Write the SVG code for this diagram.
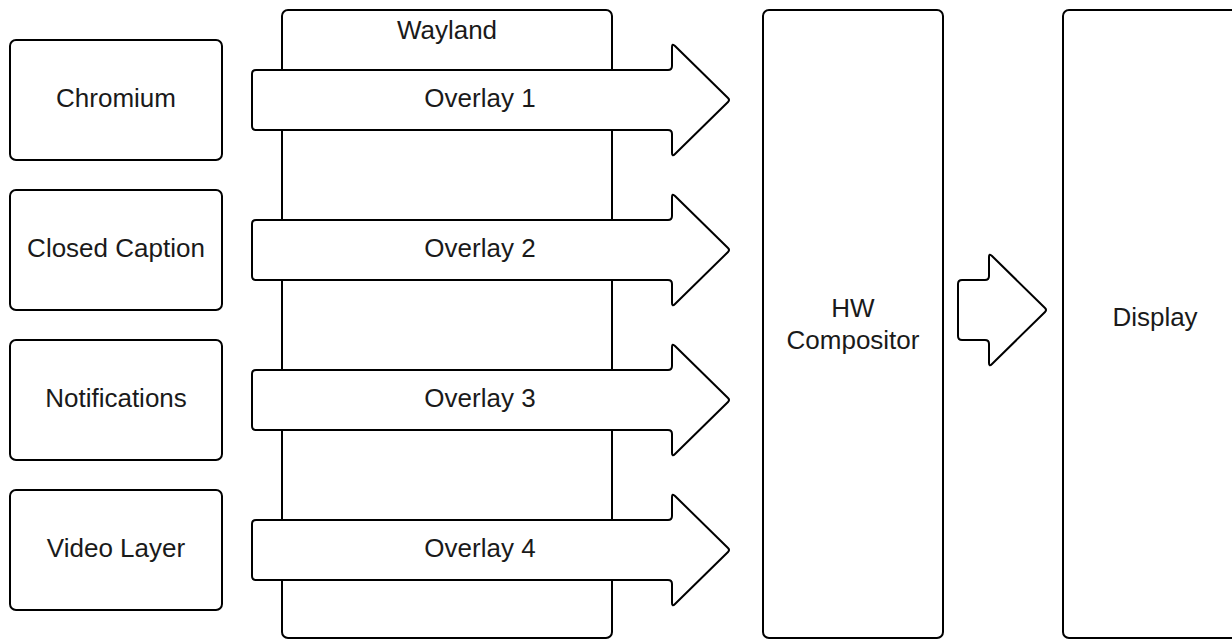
<svg xmlns="http://www.w3.org/2000/svg" xmlns:xlink="http://www.w3.org/1999/xlink" width="1232" height="639" viewBox="0 0 1232 639">
<style>
.box{fill:#fff;stroke:#000;stroke-width:2}
.arr{fill:#fff;stroke:#000;stroke-width:2;stroke-linejoin:round}
text{font-family:"Liberation Sans",Arial,sans-serif;font-size:26px;fill:#1a1a1a;text-anchor:middle}
</style>
<defs>
<path id="head" d="M 668,-30 Q 672,-30 672,-34 L 672,-53 Q 672,-57 675,-54 L 728,-2 Q 730,0 728,2 L 675,54 Q 672,57 672,53 L 672,34 Q 672,30 668,30"/>
</defs>
<rect width="1232" height="639" fill="#fff"/>
<g id="chromium"><rect class="box" x="10" y="40" width="212" height="120" rx="6"/><text x="116" y="107">Chromium</text></g>
<g id="closed-caption"><rect class="box" x="10" y="190" width="212" height="120" rx="6"/><text x="116" y="257">Closed Caption</text></g>
<g id="notifications"><rect class="box" x="10" y="340" width="212" height="120" rx="6"/><text x="116" y="407">Notifications</text></g>
<g id="video-layer"><rect class="box" x="10" y="490" width="212" height="120" rx="6"/><text x="116" y="557">Video Layer</text></g>
<g id="wayland"><rect class="box" x="282" y="10" width="330" height="628" rx="6"/><text x="447" y="39">Wayland</text></g>
<g id="hw-compositor"><rect class="box" x="763" y="10" width="180" height="628" rx="6"/><text x="853" y="317">HW</text><text x="853" y="349">Compositor</text></g>
<g id="display"><rect class="box" x="1063" y="10" width="184" height="628" rx="6"/><text x="1155" y="326">Display</text></g>
<g id="connectors">
<g id="overlay1" transform="translate(0,100)"><path class="arr" d="M 256,-30 L 668,-30 Q 672,-30 672,-34 L 672,-53 Q 672,-57 675,-54 L 728,-2 Q 730,0 728,2 L 675,54 Q 672,57 672,53 L 672,34 Q 672,30 668,30 L 256,30 Q 252,30 252,26 L 252,-26 Q 252,-30 256,-30 Z"/><text x="480" y="7">Overlay 1</text></g>
<g id="overlay2" transform="translate(0,250)"><path class="arr" d="M 256,-30 L 668,-30 Q 672,-30 672,-34 L 672,-53 Q 672,-57 675,-54 L 728,-2 Q 730,0 728,2 L 675,54 Q 672,57 672,53 L 672,34 Q 672,30 668,30 L 256,30 Q 252,30 252,26 L 252,-26 Q 252,-30 256,-30 Z"/><text x="480" y="7">Overlay 2</text></g>
<g id="overlay3" transform="translate(0,400)"><path class="arr" d="M 256,-30 L 668,-30 Q 672,-30 672,-34 L 672,-53 Q 672,-57 675,-54 L 728,-2 Q 730,0 728,2 L 675,54 Q 672,57 672,53 L 672,34 Q 672,30 668,30 L 256,30 Q 252,30 252,26 L 252,-26 Q 252,-30 256,-30 Z"/><text x="480" y="7">Overlay 3</text></g>
<g id="overlay4" transform="translate(0,550)"><path class="arr" d="M 256,-30 L 668,-30 Q 672,-30 672,-34 L 672,-53 Q 672,-57 675,-54 L 728,-2 Q 730,0 728,2 L 675,54 Q 672,57 672,53 L 672,34 Q 672,30 668,30 L 256,30 Q 252,30 252,26 L 252,-26 Q 252,-30 256,-30 Z"/><text x="480" y="7">Overlay 4</text></g>
<g id="compositor-to-display" transform="translate(317,310)"><path class="arr" d="M 645,-30 L 668,-30 Q 672,-30 672,-34 L 672,-53 Q 672,-57 675,-54 L 728,-2 Q 730,0 728,2 L 675,54 Q 672,57 672,53 L 672,34 Q 672,30 668,30 L 645,30 Q 641,30 641,26 L 641,-26 Q 641,-30 645,-30 Z"/></g>
</g>
</svg>
